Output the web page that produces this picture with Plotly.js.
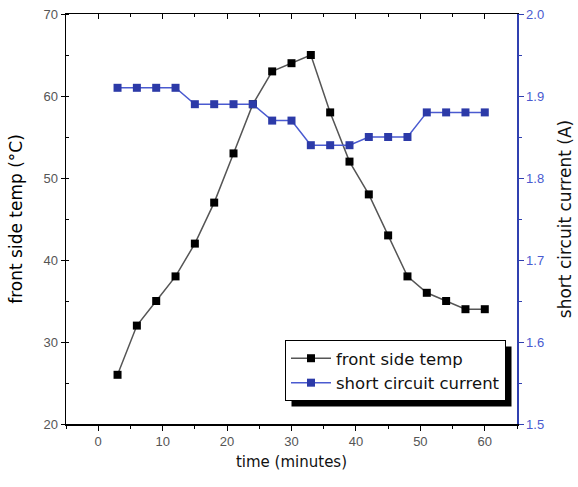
<!DOCTYPE html>
<html><head><meta charset="utf-8">
<script src="https://cdn.plot.ly/plotly-3.0.1.min.js"></script>
<style>body{margin:0;background:#fff}#c{width:578px;height:487px}</style>
</head><body><div id="c"></div>
<script>
const timeMin = [3,6,9,12,15,18,21,24,27,30,33,36,39,42,45,48,51,54,57,60];
const frontTemp = [26,32,35,38,42,47,53,59,63,64,65,58,52,48,43,38,36,35,34,34];
const scCurrent = [1.91,1.91,1.91,1.91,1.89,1.89,1.89,1.89,1.87,1.87,1.84,1.84,1.84,1.85,1.85,1.85,1.88,1.88,1.88,1.88];
const names = ['front side temp','short circuit current'];
const xTicks = [0,10,20,30,40,50,60];

const L=66,R=517,T=14,B=424,W=578,H=487;
const px=(x)=> (x-L)/(R-L), py=(y)=> (B-y)/(B-T);

const traces = [
 {x:timeMin,y:frontTemp,name:names[0],type:'scatter',mode:'lines+markers',
  line:{color:'#555555',width:1.5},marker:{symbol:'square',size:8,color:'#000000'}},
 {x:timeMin,y:scCurrent,name:names[1],type:'scatter',mode:'lines+markers',yaxis:'y2',
  line:{color:'#4a5ad0',width:1.5},marker:{symbol:'square',size:8,color:'#2c3aa8'}},
 {x:[],y:[],xaxis:'x2',showlegend:false,hoverinfo:'skip'}
];
const TF='Liberation Sans, Arial, sans-serif';
const DF='DejaVu Sans, sans-serif';
const tickFont={family:TF,size:13,color:'#555555'};
const layout={
 width:W,height:H,margin:{l:L,r:W-R,t:T,b:H-B},
 paper_bgcolor:'#fff',plot_bgcolor:'#fff',showlegend:true,
 font:{family:TF},
 xaxis:{range:[-5,65],tickvals:xTicks,ticks:'outside',ticklen:5,tickcolor:'#000',
  showline:true,linecolor:'#000',linewidth:1.5,showgrid:false,zeroline:false,tickfont:tickFont,
  minor:{dtick:5,tick0:0,ticks:'outside',ticklen:3,tickcolor:'#000'},
  title:{text:'time (minutes)',font:{family:DF,size:15,color:'#111'},standoff:8}},
 xaxis2:{overlaying:'x',side:'top',range:[-5,65],tickvals:xTicks,ticks:'inside',ticklen:5,tickcolor:'#000',
  showline:true,linecolor:'#000',linewidth:1.5,showgrid:false,zeroline:false,showticklabels:false,
  minor:{dtick:5,tick0:0,ticks:'inside',ticklen:3,tickcolor:'#000'}},
 yaxis:{range:[20,70],dtick:10,ticks:'outside',ticklen:4,tickcolor:'#000',
  showline:true,linecolor:'#000',linewidth:1.5,showgrid:false,zeroline:false,tickfont:tickFont,
  minor:{dtick:5,ticks:'inside',ticklen:3,tickcolor:'#000'},
  title:{text:'front side temp (°C)',font:{family:DF,size:17,color:'#000'},standoff:16}},
 yaxis2:{overlaying:'y',side:'right',range:[1.5,2.0],dtick:0.1,tickformat:'.1f',ticks:'outside',ticklen:5,
  tickcolor:'#3040b0',showline:true,linecolor:'#3040b0',linewidth:1.5,showgrid:false,zeroline:false,
  tickfont:{family:TF,size:13,color:'#4a5ad0'},
  minor:{dtick:0.05,ticks:'outside',ticklen:3,tickcolor:'#3040b0'},
  title:{text:'short circuit current (A)',font:{family:DF,size:17,color:'#111'},standoff:16}},
 legend:{x:px(285),y:py(340),xanchor:'left',yanchor:'top',bgcolor:'#fff',bordercolor:'#000',borderwidth:1,
  font:{family:DF,size:16.5,color:'#111'},tracegroupgap:0,itemwidth:40}
};
Plotly.newPlot('c',traces,layout,{displayModeBar:false,staticPlot:true}).then(gd=>{
  const bg=gd.querySelector('.legend .bg');
  const cr=gd.getBoundingClientRect();
  const r=bg.getBoundingClientRect();
  const x0=r.left-cr.left+6, x1=r.right-cr.left+6, y0=r.top-cr.top+6, y1=r.bottom-cr.top+6;
  return Plotly.relayout(gd,{shapes:[{type:'rect',xref:'paper',yref:'paper',
    x0:px(x0),x1:px(x1),y0:py(y1),y1:py(y0),fillcolor:'#000',line:{width:0},layer:'above'}]});
});
</script></body></html>
